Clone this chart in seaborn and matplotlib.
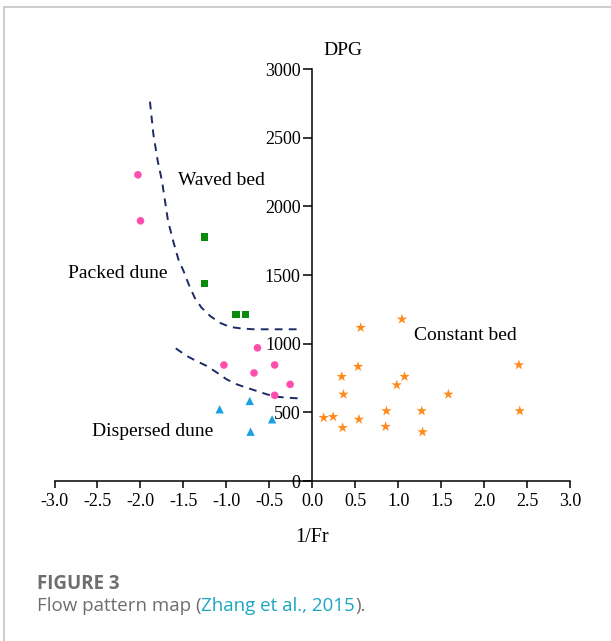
import numpy as np
import pandas as pd
import seaborn as sns
import matplotlib
matplotlib.use("Agg")
import matplotlib.pyplot as plt
from matplotlib.lines import Line2D

# ---- data -------------------------------------------------------------
# Packed dune (pink circles)
packed_x = [-2.03, -2.00, -1.03, -0.64, -0.68, -0.44, -0.26, -0.44]
packed_y = [2230, 1895, 845, 970, 787, 845, 704, 624]

# Waved bed (green squares)
waved_x = [-1.26, -1.26, -0.89, -0.78]
waved_y = [1777, 1441, 1214, 1214]

# Dispersed dune (blue triangles)
dispersed_x = [-1.08, -0.73, -0.72, -0.47]
dispersed_y = [522, 583, 359, 449]

# Constant bed (orange stars)
constant_x = [0.13, 0.24, 0.35, 0.36, 0.34, 0.53, 0.56, 0.54, 0.85, 0.86,
              0.98, 1.07, 1.04, 1.27, 1.28, 1.58, 2.40, 2.41]
constant_y = [461, 468, 388, 631, 760, 833, 1117, 449, 396, 510,
              699, 760, 1178, 510, 357, 631, 845, 510]

# Regime boundaries (dashed)
upper_bx = [-1.89, -1.85, -1.80, -1.75, -1.715, -1.68, -1.62, -1.56, -1.50,
            -1.44, -1.37, -1.29, -1.19, -1.08, -0.96, -0.84, -0.69, -0.15]
upper_by = [2763, 2525, 2331, 2185, 2039, 1894, 1748, 1615, 1530,
            1433, 1335, 1262, 1202, 1153, 1122, 1112, 1105, 1105]
lower_bx = [-1.59, -1.46, -1.35, -1.23, -1.11, -1.00, -0.88, -0.77, -0.65,
            -0.53, -0.42, -0.30, -0.165]
lower_by = [966, 910, 874, 838, 789, 741, 704, 680, 656,
            631, 614, 607, 602]

xticks = [-3.0, -2.5, -2.0, -1.5, -1.0, -0.5, 0.0, 0.5, 1.0, 1.5, 2.0, 2.5, 3.0]
yticks = [0, 500, 1000, 1500, 2000, 2500, 3000]

# ---- figure -----------------------------------------------------------
sns.set_theme(style="white")
plt.rcParams["font.family"] = ["Liberation Serif", "DejaVu Serif"]

W, H = 611, 641
fig = plt.figure(figsize=(W / 100, H / 100), dpi=100)

# axes placed so that x=0 sits at 312.5 px and y=0 at 481 px from the top
px_per_x = 86.0
px_per_y = 0.1373
y0_px = 481
xlim = (-3.3, 3.3)
ylim = (-200, 3300)
left_px = 312.5 + xlim[0] * px_per_x
width_px = (xlim[1] - xlim[0]) * px_per_x
bottom_px = H - (y0_px - ylim[0] * px_per_y)
height_px = (ylim[1] - ylim[0]) * px_per_y
ax = fig.add_axes([left_px / W, bottom_px / H, width_px / W, height_px / H])
ax.set_xlim(*xlim)
ax.set_ylim(*ylim)
ax.patch.set_alpha(0)

# points
sns.scatterplot(x=packed_x, y=packed_y, ax=ax, marker="o", s=30,
                color="#ff4fae", edgecolor="none", zorder=3)
sns.scatterplot(x=waved_x, y=waved_y, ax=ax, marker="s", s=26,
                color="#0a8a0a", edgecolor="none", zorder=3)
sns.scatterplot(x=dispersed_x, y=dispersed_y, ax=ax, marker="^", s=36,
                color="#1a9fe0", edgecolor="none", zorder=3)
sns.scatterplot(x=constant_x, y=constant_y, ax=ax, marker="*", s=62,
                color="#ff8a1c", edgecolor="none", zorder=3)

# boundaries
sns.lineplot(x=upper_bx, y=upper_by, ax=ax, sort=False, estimator=None,
             color="#1c2a66", lw=1.4, zorder=2)
sns.lineplot(x=lower_bx, y=lower_by, ax=ax, sort=False, estimator=None,
             color="#1c2a66", lw=1.4, zorder=2)
for ln in ax.get_lines():
    ln.set_dashes((4, 3.2))

# axes through the origin
for s in ["top", "right"]:
    ax.spines[s].set_visible(False)
ax.spines["left"].set_position(("data", 0))
ax.spines["bottom"].set_position(("data", 0))
ax.spines["left"].set_bounds(0, 3000)
ax.spines["bottom"].set_bounds(-3, 3)
for s in ["left", "bottom"]:
    ax.spines[s].set_color("black")
    ax.spines[s].set_linewidth(1.1)
    ax.spines[s].set_zorder(1)

ax.set_xticks(xticks)
ax.set_xticklabels([f"{t:.1f}" for t in xticks])
ax.set_yticks(yticks)
ax.set_yticklabels([str(t) for t in yticks])
ax.tick_params(axis="x", bottom=True, direction="out", length=5, width=1.1,
               pad=3.5, labelsize=13, colors="black")
ax.tick_params(axis="y", left=True, direction="out", length=6.5, width=1.1,
               pad=2, labelsize=13, colors="black")
ax.set_xlabel("")
ax.set_ylabel("")

# annotations
txt = dict(fontsize=14, color="black", va="center", ha="left")
ax.text(0.13, 3135, "DPG", **txt)
ax.text(-1.56, 2192, "Waved bed", **txt)
ax.text(-2.84, 1510, "Packed dune", **txt)
ax.text(1.18, 1063, "Constant bed", **txt)
ax.text(-2.56, 357, "Dispersed dune", **txt)
ax.text(0.0, (y0_px - 537) / px_per_y, "1/Fr", fontsize=14.5, color="black",
        ha="center", va="center", clip_on=False)

# page frame
fig.add_artist(Line2D([4 / W, 1], [1 - 7 / H, 1 - 7 / H], color="#c4c4c4", lw=1.2))
fig.add_artist(Line2D([4 / W, 4 / W], [0, 1 - 7 / H], color="#c4c4c4", lw=1.2))

# caption
cap = ["Open Sans", "DejaVu Sans"]
fig.text(37 / W, 1 - 584 / H, "FIGURE 3", family=cap, fontsize=13.5,
         fontweight="bold", color="#6e6e6e", va="center", ha="left")
t1 = fig.text(37 / W, 1 - 606 / H, "Flow pattern map (", family=cap,
              fontsize=13.5, color="#6e6e6e", va="center", ha="left")
fig.canvas.draw()
r = fig.canvas.get_renderer()
bb = t1.get_window_extent(r)
t2 = fig.text(bb.x1 / W, 1 - 606 / H, "Zhang et al., 2015", family=cap,
              fontsize=13.5, color="#1aa7c4", va="center", ha="left")
bb2 = t2.get_window_extent(r)
fig.text(bb2.x1 / W, 1 - 606 / H, ").", family=cap, fontsize=13.5,
         color="#6e6e6e", va="center", ha="left")

fig.savefig("out.png", dpi=100)
